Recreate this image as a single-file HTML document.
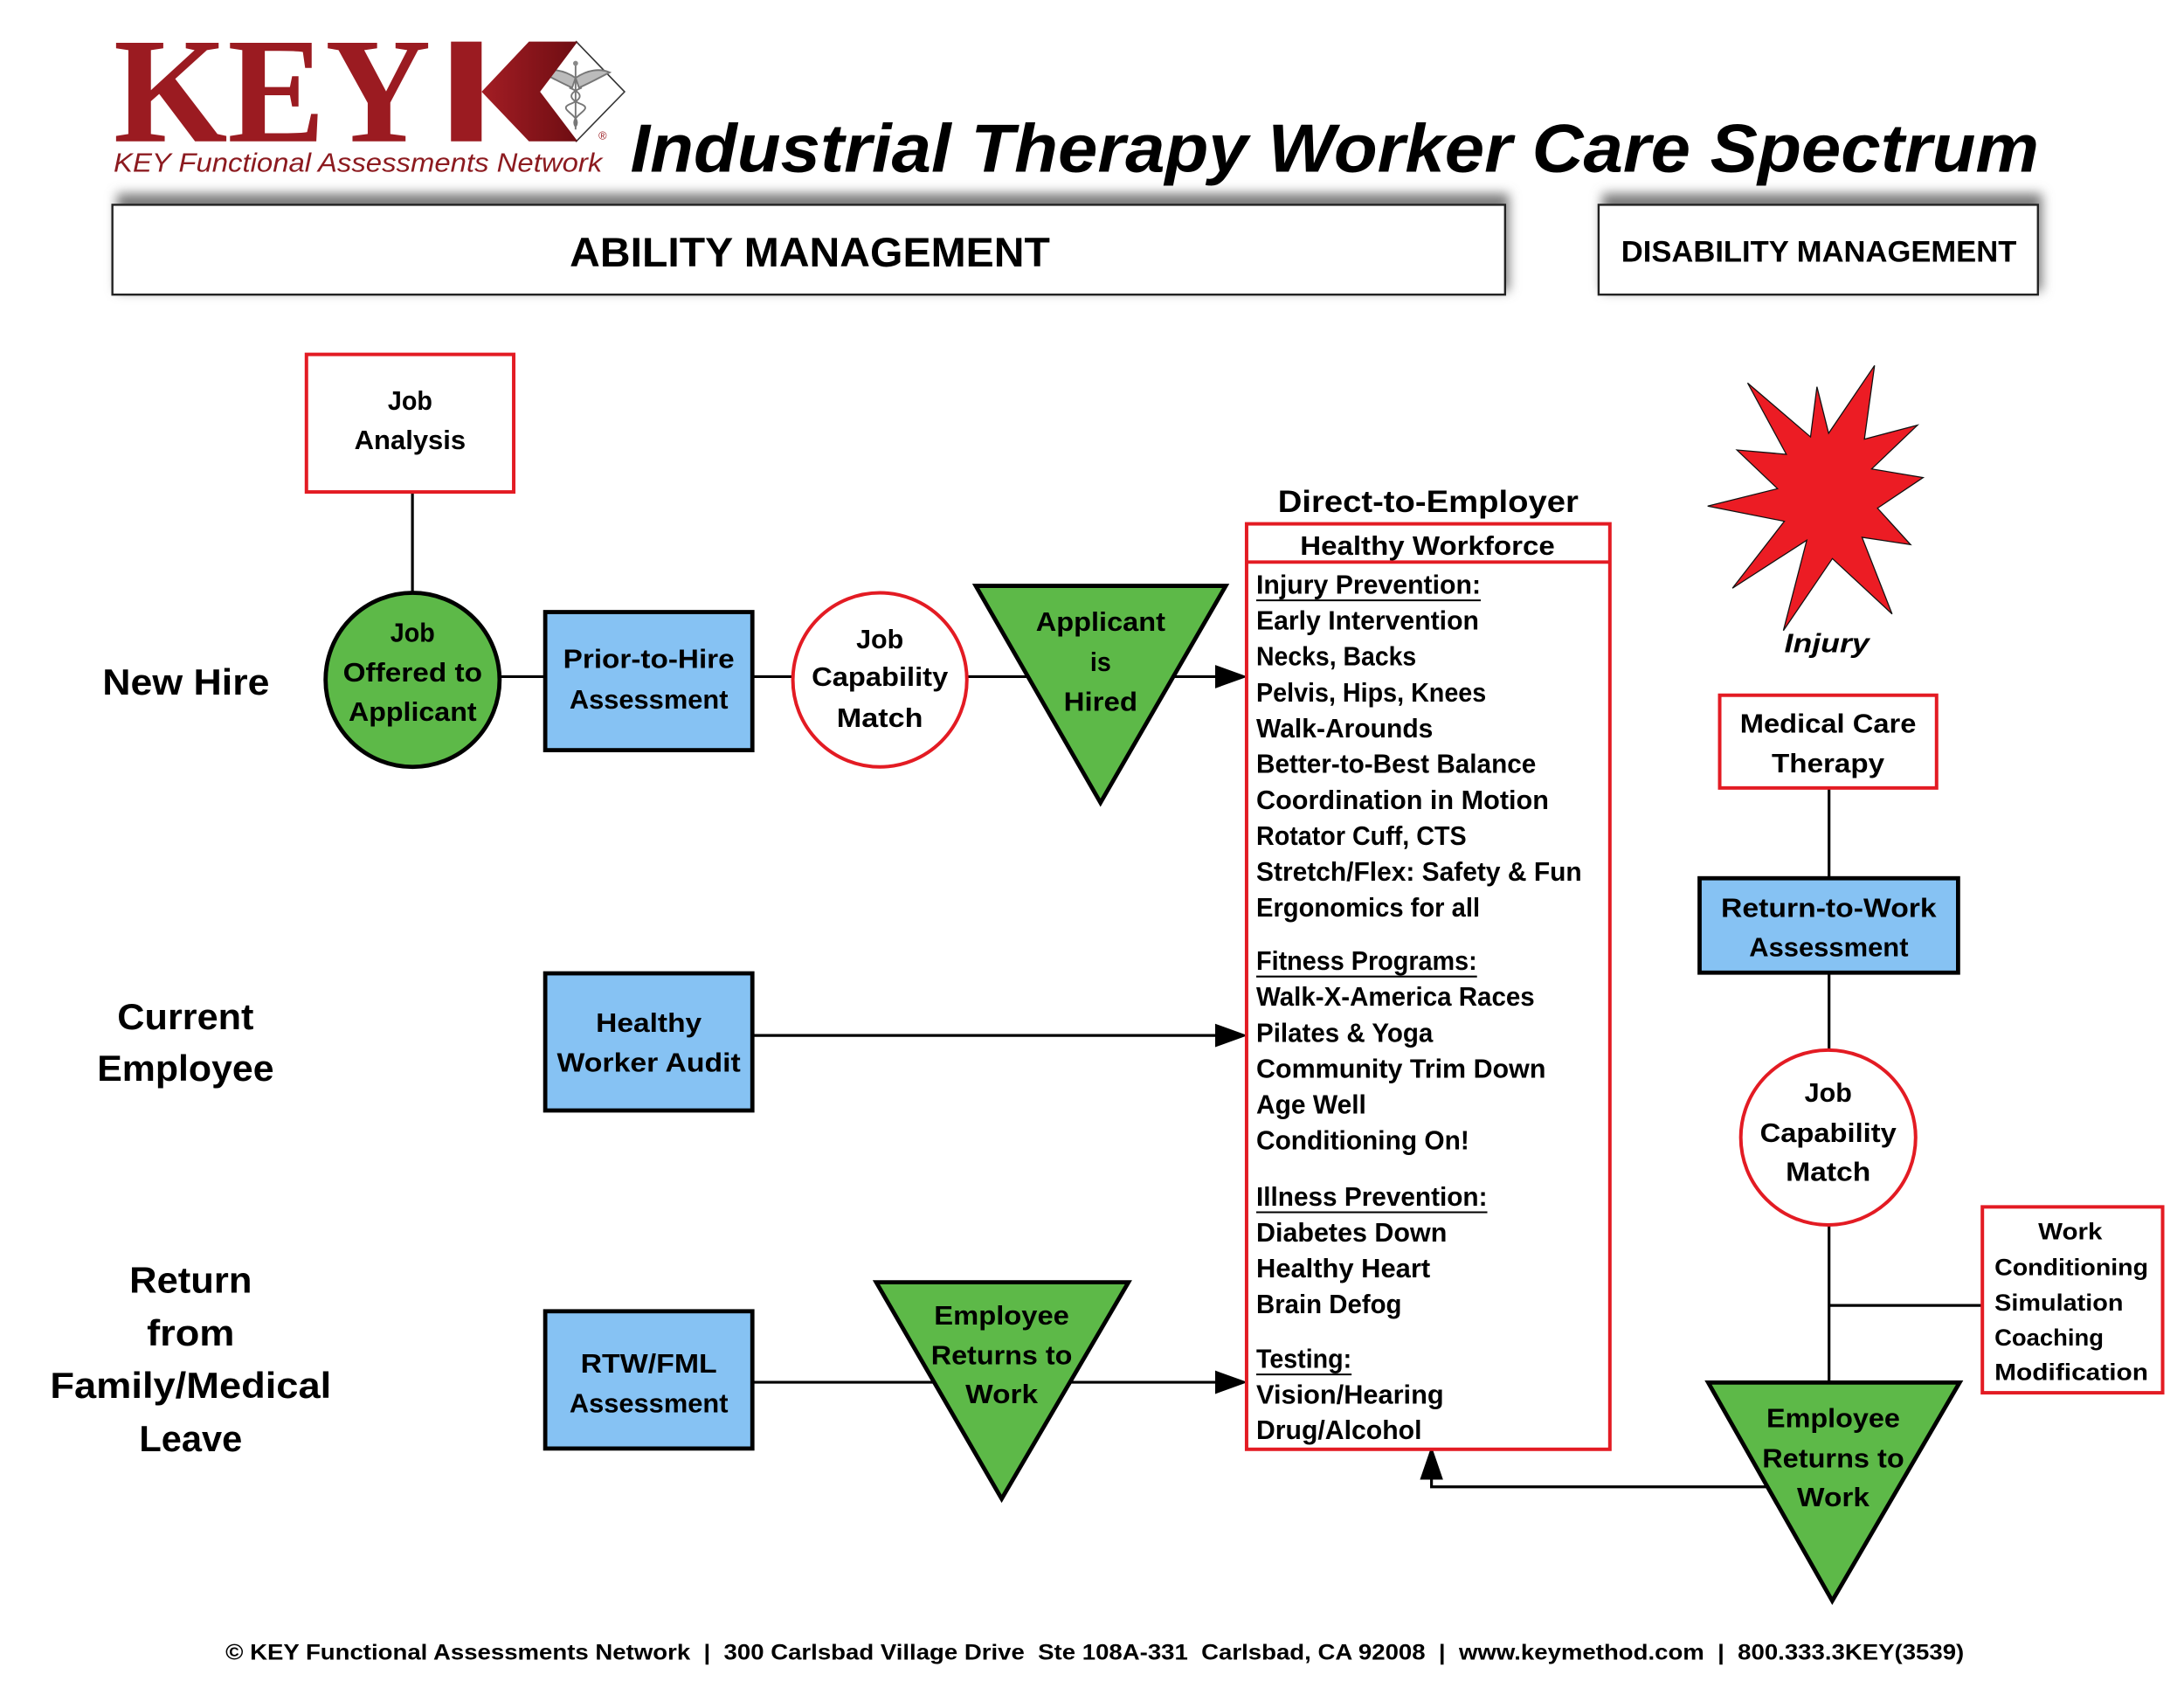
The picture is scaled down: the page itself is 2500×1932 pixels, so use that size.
<!DOCTYPE html>
<html>
<head>
<meta charset="utf-8">
<title>Industrial Therapy Worker Care Spectrum</title>
<style>
html,body{margin:0;padding:0;background:#ffffff;}
svg{display:block;}
text{font-family:"Liberation Sans",Arial,sans-serif;font-weight:bold;fill:#000;}
.serif{font-family:"Liberation Serif","Times New Roman",serif;}
</style>
</head>
<body>
<svg width="2500" height="1932" viewBox="0 0 1569 1212.4" preserveAspectRatio="none" xmlns="http://www.w3.org/2000/svg">
<defs>
  <filter id="sh" x="-5%" y="-60%" width="110%" height="220%">
    <feGaussianBlur stdDeviation="4"/>
  </filter>
  <linearGradient id="kg" x1="0" y1="0" x2="1" y2="0">
    <stop offset="0" stop-color="#a31d24"/>
    <stop offset="1" stop-color="#6e0d12"/>
  </linearGradient>
</defs>

<!-- ============ HEADER ============ -->
<!-- Logo KEY -->
<text class="serif" x="81.6" y="101.5" font-size="108" textLength="228" lengthAdjust="spacingAndGlyphs" fill="#9b1b21" style="fill:#9b1b21">KEY</text>
<!-- Diamond -->
<polygon points="414,29.9 448.7,65.9 414,101.5 379,65.9" fill="#ffffff" stroke="#333" stroke-width="1"/>
<!-- caduceus -->
<g stroke="#777" fill="none" stroke-width="1.2">
  <line x1="413.5" y1="46" x2="413.5" y2="93"/>
  <path d="M413.5,56 C405,50 396,49 389,52 C395,55 402,59 411,63 Z" fill="#bbb"/>
  <path d="M413.5,56 C422,50 431,49 438,52 C432,55 425,59 416,63 Z" fill="#bbb"/>
  <path d="M409,63 C419,67 419,71 409,75 C400,79 419,83 413.5,91"/>
  <path d="M418,63 C408,67 408,71 418,75 C427,79 408,83 413.5,91"/>
</g>
<circle cx="413.5" cy="45.5" r="1.8" fill="#888"/>
<!-- K mark -->
<rect x="324" y="29.9" width="22" height="71.6" fill="#9b1b21"/>
<polygon points="380,29.9 415,29.9 388,65.9 415,101.5 380,101.5 346,65.9" fill="url(#kg)"/>
<text x="430" y="100" font-size="8" style="font-weight:normal;fill:#9b1b21">®</text>
<!-- subtitle -->
<text x="81.6" y="123.4" font-size="19" textLength="351" lengthAdjust="spacingAndGlyphs" style="font-weight:normal;font-style:italic;fill:#8c1a1f">KEY Functional Assessments Network</text>

<!-- Title -->
<text x="452.8" y="123.4" font-size="49" textLength="1012" lengthAdjust="spacingAndGlyphs" style="font-style:italic">Industrial Therapy Worker Care Spectrum</text>

<!-- Section boxes with shadows -->
<rect x="84" y="139" width="1000" height="70" fill="#7a7a7a" filter="url(#sh)"/>
<rect x="1151" y="139" width="316" height="70" fill="#7a7a7a" filter="url(#sh)"/>
<rect x="80.75" y="147.1" width="1000.5" height="64.5" fill="#fff" stroke="#222" stroke-width="1.5"/>
<rect x="1148.45" y="147.1" width="315.6" height="64.5" fill="#fff" stroke="#222" stroke-width="1.5"/>
<text x="409.3" y="191.4" font-size="29.5" textLength="345" lengthAdjust="spacingAndGlyphs">ABILITY MANAGEMENT</text>
<text x="1164.7" y="187.9" font-size="21.5" textLength="284" lengthAdjust="spacingAndGlyphs">DISABILITY MANAGEMENT</text>

<!-- ============ ROW LABELS ============ -->
<text x="73.6" y="498.9" font-size="26.4" textLength="120" lengthAdjust="spacingAndGlyphs">New Hire</text>
<text x="133.3" y="739.3" font-size="26.4" text-anchor="middle" textLength="98" lengthAdjust="spacingAndGlyphs">Current</text>
<text x="133.3" y="776.2" font-size="26.4" text-anchor="middle" textLength="127" lengthAdjust="spacingAndGlyphs">Employee</text>
<text x="137" y="928.6" font-size="26.4" text-anchor="middle" textLength="88" lengthAdjust="spacingAndGlyphs">Return</text>
<text x="137" y="966.3" font-size="26.4" text-anchor="middle" textLength="63" lengthAdjust="spacingAndGlyphs">from</text>
<text x="137" y="1004" font-size="26.4" text-anchor="middle" textLength="202" lengthAdjust="spacingAndGlyphs">Family/Medical</text>
<text x="137" y="1042.4" font-size="26.4" text-anchor="middle" textLength="74" lengthAdjust="spacingAndGlyphs">Leave</text>

<!-- ============ CONNECTORS (drawn under shapes) ============ -->
<g stroke="#000" stroke-width="2" fill="none">
  <line x1="296.3" y1="354" x2="296.3" y2="426"/>
  <line x1="358" y1="486" x2="392" y2="486"/>
  <line x1="540" y1="486" x2="571" y2="486"/>
  <line x1="693" y1="486" x2="874" y2="486"/>
  <line x1="540" y1="743.7" x2="874" y2="743.7"/>
  <line x1="540" y1="992.8" x2="874" y2="992.8"/>
  <line x1="1314" y1="567" x2="1314" y2="630"/>
  <line x1="1314" y1="699" x2="1314" y2="755"/>
  <line x1="1314" y1="879" x2="1314" y2="993"/>
  <line x1="1314" y1="937.6" x2="1424" y2="937.6"/>
  <polyline points="1270,1067.9 1028.4,1067.9 1028.4,1061"/>
</g>
<!-- arrowheads -->
<polygon points="873,477.6 896.3,486 873,494.4" fill="#000"/>
<polygon points="873,735.3 896.3,743.7 873,752.1" fill="#000"/>
<polygon points="873,984.4 896.3,992.8 873,1001.2" fill="#000"/>
<polygon points="1020.1,1062.7 1028.4,1038.6 1036.7,1062.7" fill="#000"/>

<!-- ============ NEW HIRE ROW ============ -->
<rect x="220.15" y="254.55" width="148.9" height="98.8" fill="#fff" stroke="#e31b23" stroke-width="2.5"/>
<text x="294.6" y="294.2" font-size="19" text-anchor="middle" textLength="32" lengthAdjust="spacingAndGlyphs">Job</text>
<text x="294.6" y="322.5" font-size="19" text-anchor="middle" textLength="80" lengthAdjust="spacingAndGlyphs">Analysis</text>

<circle cx="296.4" cy="488.3" r="62.5" fill="#5db948" stroke="#000" stroke-width="3"/>
<text x="296.4" y="460.8" font-size="19" text-anchor="middle" textLength="32" lengthAdjust="spacingAndGlyphs">Job</text>
<text x="296.4" y="489.5" font-size="19" text-anchor="middle" textLength="100" lengthAdjust="spacingAndGlyphs">Offered to</text>
<text x="296.4" y="517.7" font-size="19" text-anchor="middle" textLength="92" lengthAdjust="spacingAndGlyphs">Applicant</text>

<rect x="391.7" y="439.6" width="148.8" height="99.2" fill="#86c2f3" stroke="#000" stroke-width="3"/>
<text x="466.1" y="479.9" font-size="19" text-anchor="middle" textLength="123" lengthAdjust="spacingAndGlyphs">Prior-to-Hire</text>
<text x="466.1" y="508.9" font-size="19" text-anchor="middle" textLength="114" lengthAdjust="spacingAndGlyphs">Assessment</text>

<circle cx="632.1" cy="488.3" r="62.5" fill="#fff" stroke="#e31b23" stroke-width="2.5"/>
<text x="632.1" y="465.5" font-size="19" text-anchor="middle" textLength="34" lengthAdjust="spacingAndGlyphs">Job</text>
<text x="632.1" y="492.7" font-size="19" text-anchor="middle" textLength="98" lengthAdjust="spacingAndGlyphs">Capability</text>
<text x="632.1" y="522.1" font-size="19" text-anchor="middle" textLength="62" lengthAdjust="spacingAndGlyphs">Match</text>

<polygon points="701,420.8 880.6,420.8 790.6,576.5" fill="#5db948" stroke="#000" stroke-width="3" stroke-linejoin="miter"/>
<text x="790.7" y="453.2" font-size="19" text-anchor="middle" textLength="93" lengthAdjust="spacingAndGlyphs">Applicant</text>
<text x="790.7" y="481.8" font-size="19" text-anchor="middle" textLength="15" lengthAdjust="spacingAndGlyphs">is</text>
<text x="790.7" y="510.5" font-size="19" text-anchor="middle" textLength="53" lengthAdjust="spacingAndGlyphs">Hired</text>

<!-- ============ CURRENT EMPLOYEE ROW ============ -->
<rect x="391.7" y="699.1" width="148.8" height="98.5" fill="#86c2f3" stroke="#000" stroke-width="3"/>
<text x="466.1" y="741.1" font-size="19" text-anchor="middle" textLength="76" lengthAdjust="spacingAndGlyphs">Healthy</text>
<text x="466.1" y="769.7" font-size="19" text-anchor="middle" textLength="132" lengthAdjust="spacingAndGlyphs">Worker Audit</text>

<!-- ============ RETURN ROW ============ -->
<rect x="391.7" y="941.8" width="148.8" height="98.6" fill="#86c2f3" stroke="#000" stroke-width="3"/>
<text x="466.1" y="985.9" font-size="19" text-anchor="middle" textLength="98" lengthAdjust="spacingAndGlyphs">RTW/FML</text>
<text x="466.1" y="1014.5" font-size="19" text-anchor="middle" textLength="114" lengthAdjust="spacingAndGlyphs">Assessment</text>

<polygon points="629.5,921 810.7,921 719.6,1076.5" fill="#5db948" stroke="#000" stroke-width="3"/>
<text x="719.6" y="951.4" font-size="19" text-anchor="middle" textLength="97" lengthAdjust="spacingAndGlyphs">Employee</text>
<text x="719.6" y="980" font-size="19" text-anchor="middle" textLength="101.5" lengthAdjust="spacingAndGlyphs">Returns to</text>
<text x="719.6" y="1007.8" font-size="19" text-anchor="middle" textLength="52" lengthAdjust="spacingAndGlyphs">Work</text>

<!-- ============ HEALTHY WORKFORCE ============ -->
<text x="1026" y="367.7" font-size="21.8" text-anchor="middle" textLength="216" lengthAdjust="spacingAndGlyphs">Direct-to-Employer</text>
<rect x="895.55" y="376.25" width="261" height="664.7" fill="#fff" stroke="#e31b23" stroke-width="2.5"/>
<line x1="895.5" y1="403.7" x2="1156.5" y2="403.7" stroke="#e31b23" stroke-width="2.5"/>
<text x="1025.5" y="398.4" font-size="19.4" text-anchor="middle" textLength="183" lengthAdjust="spacingAndGlyphs">Healthy Workforce</text>

<g font-size="19.2">
<text x="902.5" y="426.5" textLength="161.3" lengthAdjust="spacingAndGlyphs">Injury Prevention:</text>
<text x="902.5" y="452.2" textLength="160" lengthAdjust="spacingAndGlyphs">Early Intervention</text>
<text x="902.5" y="478" textLength="115" lengthAdjust="spacingAndGlyphs">Necks, Backs</text>
<text x="902.5" y="503.8" textLength="165.2" lengthAdjust="spacingAndGlyphs">Pelvis, Hips, Knees</text>
<text x="902.5" y="529.5" textLength="127" lengthAdjust="spacingAndGlyphs">Walk-Arounds</text>
<text x="902.5" y="555.2" textLength="201" lengthAdjust="spacingAndGlyphs">Better-to-Best Balance</text>
<text x="902.5" y="581" textLength="210.2" lengthAdjust="spacingAndGlyphs">Coordination in Motion</text>
<text x="902.5" y="606.8" textLength="151" lengthAdjust="spacingAndGlyphs">Rotator Cuff, CTS</text>
<text x="902.5" y="632.5" textLength="233.9" lengthAdjust="spacingAndGlyphs">Stretch/Flex: Safety &amp; Fun</text>
<text x="902.5" y="658.2" textLength="160.7" lengthAdjust="spacingAndGlyphs">Ergonomics for all</text>

<text x="902.5" y="696.7" textLength="158.6" lengthAdjust="spacingAndGlyphs">Fitness Programs:</text>
<text x="902.5" y="722.4" textLength="200" lengthAdjust="spacingAndGlyphs">Walk-X-America Races</text>
<text x="902.5" y="748.2" textLength="127" lengthAdjust="spacingAndGlyphs">Pilates &amp; Yoga</text>
<text x="902.5" y="774" textLength="208" lengthAdjust="spacingAndGlyphs">Community Trim Down</text>
<text x="902.5" y="799.7" textLength="79" lengthAdjust="spacingAndGlyphs">Age Well</text>
<text x="902.5" y="825.4" textLength="153" lengthAdjust="spacingAndGlyphs">Conditioning On!</text>

<text x="902.5" y="866" textLength="166" lengthAdjust="spacingAndGlyphs">Illness Prevention:</text>
<text x="902.5" y="891.7" textLength="137" lengthAdjust="spacingAndGlyphs">Diabetes Down</text>
<text x="902.5" y="917.5" textLength="125" lengthAdjust="spacingAndGlyphs">Healthy Heart</text>
<text x="902.5" y="943.2" textLength="104.5" lengthAdjust="spacingAndGlyphs">Brain Defog</text>

<text x="902.5" y="982.3" textLength="68.5" lengthAdjust="spacingAndGlyphs">Testing:</text>
<text x="902.5" y="1008" textLength="134.7" lengthAdjust="spacingAndGlyphs">Vision/Hearing</text>
<text x="902.5" y="1033.7" textLength="118.9" lengthAdjust="spacingAndGlyphs">Drug/Alcohol</text>
</g>
<g stroke="#000" stroke-width="1.3">
  <line x1="902.5" y1="431.2" x2="1063.8" y2="431.2"/>
  <line x1="902.5" y1="701.4" x2="1061.1" y2="701.4"/>
  <line x1="902.5" y1="870.7" x2="1068.5" y2="870.7"/>
  <line x1="902.5" y1="987.2" x2="971" y2="987.2"/>
</g>

<!-- ============ DISABILITY SIDE ============ -->
<polygon points="1255.5,275.1 1300.7,313.8 1305.3,277.8 1313.7,311.2 1346.7,262.5 1339.4,315.4 1377.5,305.4 1344.6,336.8 1381.6,343 1348.8,365 1372.6,391.2 1337.7,385.9 1359.3,441 1316.4,401.2 1281.2,452.9 1298,388 1244.6,422.5 1281.9,374.4 1226.8,363.5 1277,351 1247.8,323.2 1283.3,326.3" fill="#ec1c24" stroke="#111" stroke-width="0.8" stroke-linejoin="miter"/>
<text x="1281.9" y="468.6" font-size="19" textLength="61" lengthAdjust="spacingAndGlyphs" style="font-style:italic">Injury</text>

<rect x="1235.45" y="499.35" width="155.8" height="66.6" fill="#fff" stroke="#e31b23" stroke-width="2.5"/>
<text x="1313.3" y="526.3" font-size="19" text-anchor="middle" textLength="126.6" lengthAdjust="spacingAndGlyphs">Medical Care</text>
<text x="1313.3" y="554.9" font-size="19" text-anchor="middle" textLength="81" lengthAdjust="spacingAndGlyphs">Therapy</text>

<rect x="1221" y="630.8" width="185.7" height="67.8" fill="#86c2f3" stroke="#000" stroke-width="3"/>
<text x="1313.8" y="658.7" font-size="19" text-anchor="middle" textLength="154.8" lengthAdjust="spacingAndGlyphs">Return-to-Work</text>
<text x="1313.8" y="686.9" font-size="19" text-anchor="middle" textLength="114.4" lengthAdjust="spacingAndGlyphs">Assessment</text>

<circle cx="1313.4" cy="817" r="62.8" fill="#fff" stroke="#e31b23" stroke-width="2.5"/>
<text x="1313.4" y="791.2" font-size="19" text-anchor="middle" textLength="34" lengthAdjust="spacingAndGlyphs">Job</text>
<text x="1313.4" y="820.3" font-size="19" text-anchor="middle" textLength="98" lengthAdjust="spacingAndGlyphs">Capability</text>
<text x="1313.4" y="848" font-size="19" text-anchor="middle" textLength="61" lengthAdjust="spacingAndGlyphs">Match</text>

<rect x="1424.15" y="866.85" width="129.5" height="133.5" fill="#fff" stroke="#e31b23" stroke-width="2.5"/>
<text x="1487.3" y="890.1" font-size="16.6" text-anchor="middle" textLength="46" lengthAdjust="spacingAndGlyphs">Work</text>
<text x="1432.9" y="915.8" font-size="16.6" textLength="110.4" lengthAdjust="spacingAndGlyphs">Conditioning</text>
<text x="1432.9" y="941.3" font-size="16.6" textLength="92.5" lengthAdjust="spacingAndGlyphs">Simulation</text>
<text x="1432.9" y="966.3" font-size="16.6" textLength="78.4" lengthAdjust="spacingAndGlyphs">Coaching</text>
<text x="1432.9" y="991.1" font-size="16.6" textLength="110.4" lengthAdjust="spacingAndGlyphs">Modification</text>

<polygon points="1227.2,993 1407.8,993 1316.3,1149.8" fill="#5db948" stroke="#000" stroke-width="3"/>
<text x="1317" y="1025" font-size="19" text-anchor="middle" textLength="96" lengthAdjust="spacingAndGlyphs">Employee</text>
<text x="1317" y="1053.9" font-size="19" text-anchor="middle" textLength="102" lengthAdjust="spacingAndGlyphs">Returns to</text>
<text x="1317" y="1081.9" font-size="19" text-anchor="middle" textLength="52" lengthAdjust="spacingAndGlyphs">Work</text>

<!-- ============ FOOTER ============ -->
<text x="162" y="1191.9" font-size="15.5" textLength="1249" lengthAdjust="spacingAndGlyphs" style="white-space:pre">© KEY Functional Assessments Network  |  300 Carlsbad Village Drive  Ste 108A-331  Carlsbad, CA 92008  |  www.keymethod.com  |  800.333.3KEY(3539)</text>
</svg>
</body>
</html>
